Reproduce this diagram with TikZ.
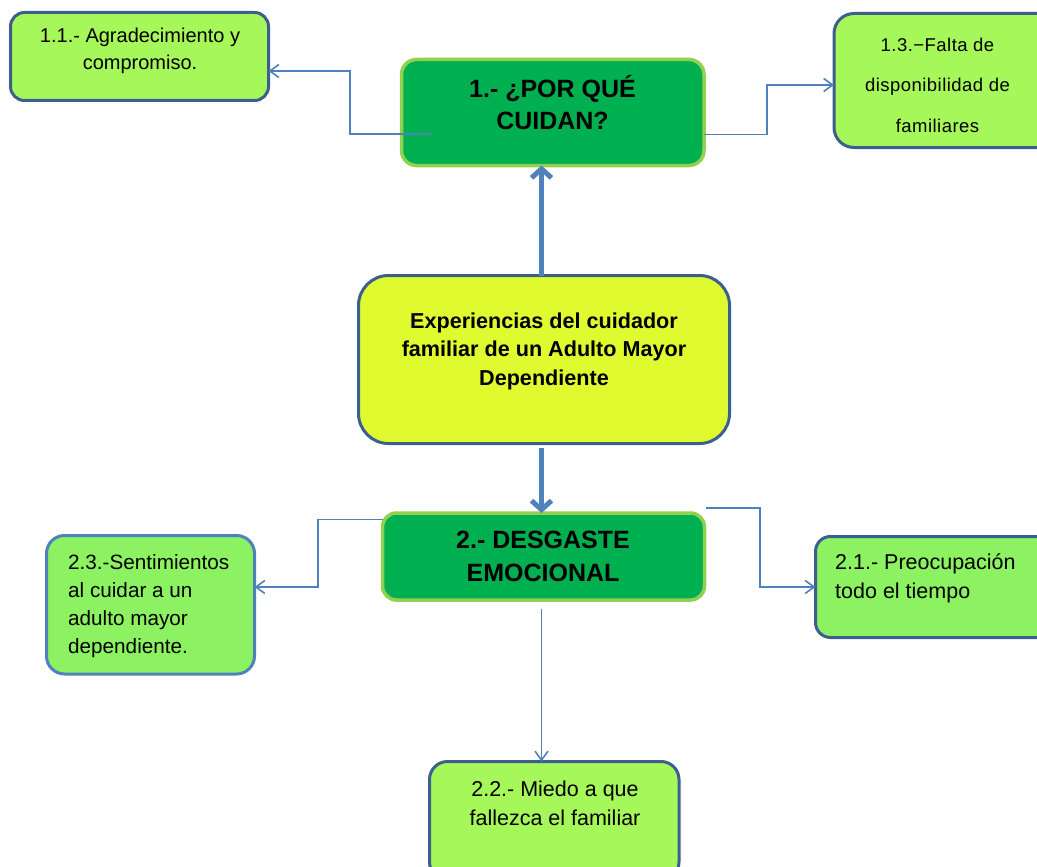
\documentclass[tikz,border=0pt]{standalone}
\usepackage{fontspec}
\setmainfont{Liberation Sans}
\newfontfamily\spacedfont{Liberation Sans}[LetterSpace=2.5]
\usetikzlibrary{arrows.meta}

\definecolor{boxblue}{HTML}{3C5F8E}
\definecolor{boxblueLight}{HTML}{4F81BD}
\definecolor{limeA}{HTML}{A6F75A}
\definecolor{limeB}{HTML}{8CF262}
\definecolor{mainGreen}{HTML}{00B050}
\definecolor{mainEdge}{HTML}{92D050}
\definecolor{coreFill}{HTML}{DFFB30}
\definecolor{link}{HTML}{4F81BD}

\tikzset{
  leafbox/.style={draw=boxblue, line width=3pt, fill=limeA, inner sep=0pt, outer sep=0pt},
  topicbox/.style={draw=mainEdge, line width=3.5pt, fill=mainGreen, inner sep=0pt, outer sep=0pt, rounded corners=15pt},
  corebox/.style={draw=boxblue, line width=3pt, fill=coreFill, inner sep=0pt, outer sep=0pt, rounded corners=30pt},
  label/.style={inner sep=0pt, anchor=base},
  conn/.style={draw=link, line width=1.6pt, -{Straight Barb[length=9pt,width=13pt,line width=1.6pt]}},
  thick link/.style={draw=link, line width=5pt, -{Straight Barb[length=9pt,width=20pt]}},
}

\begin{document}
\begin{tikzpicture}[x=1pt, y=-1pt]
\clip (0,0) rectangle (1037,867);
\fill[white] (0,0) rectangle (1037,867);

% boxes
\node[leafbox, rounded corners=14pt, minimum width=258pt, minimum height=88pt] (b11) at (139.5,56.5) {};
\node[leafbox, rounded corners=20pt, minimum width=226pt, minimum height=134pt] (b13) at (947,80.5) {};
\node[topicbox, minimum width=302.5pt, minimum height=106pt] (m1) at (552.75,112.5) {};
\node[corebox, minimum width=371pt, minimum height=168pt] (c) at (544,359.5) {};
\node[topicbox, rounded corners=14pt, minimum width=322pt, minimum height=87pt] (m2) at (543.5,556.5) {};
\node[leafbox, draw=boxblueLight, fill=limeB, rounded corners=18pt, minimum width=208pt, minimum height=138.5pt] (b23) at (150.5,604.75) {};
\node[leafbox, fill=limeB, rounded corners=15pt, minimum width=244.5pt, minimum height=101pt] (b21) at (937.75,587) {};
\node[leafbox, rounded corners=18pt, minimum width=249.5pt, minimum height=118.5pt] (b22) at (554.25,820.75) {};

% texts (each placed at the baseline of its last line)
\node[label, align=center, font=\fontsize{20}{27}\selectfont] (t11) at (140,70) {1.1.- Agradecimiento y\\compromiso.};
\node[label, align=center, font=\fontsize{18.5}{40.5}\selectfont\spacedfont] (t13) at (937.5,132) {1.3.−Falta de\\disponibilidad de\\familiares};
\node[label, align=center, font=\fontsize{25}{32}\selectfont\bfseries] (tm1) at (552.5,129) {1.- ¿POR QUÉ\\CUIDAN?};
\node[label, align=center, font=\fontsize{21.6}{28.5}\selectfont\bfseries] (tc) at (544,385) {Experiencias del cuidador\\familiar de un Adulto Mayor\\Dependiente};
\node[label, align=center, font=\fontsize{25}{33}\selectfont\bfseries] (tm2) at (543,581) {2.- DESGASTE\\EMOCIONAL};
\node[label, anchor=base west, align=left, font=\fontsize{20.7}{27.8}\selectfont] (t23) at (68,653) {2.3.-Sentimientos\\al cuidar a un\\adulto mayor\\dependiente.};
\node[label, anchor=base west, align=left, font=\fontsize{21.5}{28.3}\selectfont] (t21) at (835,598) {2.1.- Preocupación\\todo el tiempo};
\node[label, align=center, font=\fontsize{21.5}{28.3}\selectfont] (t22) at (555,825) {2.2.- Miedo a que\\fallezca el familiar};

% free ends of the thin connectors
\coordinate (s11) at (431,134);
\coordinate (s21) at (706,508);
\coordinate (s22) at (541.5,609);

% thick links from the central box
\draw[thick link] (c.north -| 541.5,0) -- (m1.south -| 541.5,0);
\draw[thick link, shorten <=4pt] (c.south -| 541.5,0) -- (m2.north -| 541.5,0);

% thin links to the sub-themes
\draw[conn] (s11) -- (350,134) -- (350,71) -- (b11.east |- 0,71);
\draw[conn] (m1.east |- 0,134.5) -- (767,134.5) -- (767,85) -- (b13.west |- 0,85);
\draw[conn] (m2.west |- 0,519.5) -- (318,519.5) -- (318,587) -- (b23.east |- 0,587);
\draw[conn] (s21) -- (760,508) -- (760,587) -- (b21.west |- 0,587);
\draw[conn] (s22) -- (b22.north -| s22);
\end{tikzpicture}
\end{document}
